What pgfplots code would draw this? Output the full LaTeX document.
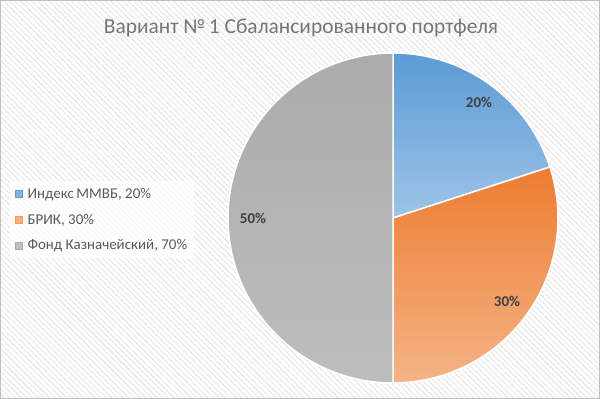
\documentclass[border=0pt]{standalone}
\usepackage{pgfplots}
\pgfplotsset{compat=1.18}
\usepackage{pgfplotstable}
\usepackage{fontspec}
\setmainfont{Carlito}
\usetikzlibrary{patterns.meta}
\definecolor{cblueT}{HTML}{5B9BD5}
\definecolor{cblueB}{HTML}{9FC4E7}
\definecolor{corT}{HTML}{ED7D31}
\definecolor{corB}{HTML}{F5B386}
\definecolor{cgrT}{HTML}{ABABAB}
\definecolor{cgrB}{HTML}{BDBDBD}
\definecolor{ctitle}{HTML}{767676}
\definecolor{ctext}{HTML}{595959}
\definecolor{clab}{HTML}{404040}
\pgfplotstableread{
name value
A 20
B 30
C 50
}\piedata
\begin{document}
\begin{tikzpicture}
\pgfplotstablegetelem{0}{value}\of\piedata \let\va\pgfplotsretval
\pgfplotstablegetelem{1}{value}\of\piedata \let\vb\pgfplotsretval
\pgfplotstablegetelem{2}{value}\of\piedata \let\vc\pgfplotsretval
\pgfmathsetmacro\aA{90}
\pgfmathsetmacro\aB{\aA-3.6*\va}
\pgfmathsetmacro\aC{\aB-3.6*\vb}
\pgfmathsetmacro\aD{\aC-3.6*\vc}
\fill[white] (0,0) rectangle (600bp,399bp);
\fill[pattern={Lines[angle=-45,distance=4bp,line width=0.6bp]},pattern color=black!14] (0,0) rectangle (600bp,399bp);
\draw[black!25,line width=1bp] (0.5bp,0.5bp) rectangle (599.5bp,398.5bp);
\begin{axis}[
  at={(0,0)}, anchor=origin,
  width=600bp, height=399bp, scale only axis,
  xmin=0, xmax=600, ymin=0, ymax=399,
  hide axis, clip=false,
  legend style={at={(axis cs:10,218)}, anchor=north west, draw=none,
    fill=white, fill opacity=0.75, text opacity=1,
    font=\fontsize{15}{17}\selectfont, text=ctext,
    row sep=10bp, inner xsep=5bp, inner ysep=5bp},
  legend cell align=left,
]
\addlegendimage{area legend, legend image code/.code={\fill[cblueT] (0bp,-3.5bp) rectangle (7bp,3.5bp);}}
\addlegendentry{\hspace{3bp}Индекс\kern2.5pt ММВБ,\ 20\%}
\addlegendimage{area legend, legend image code/.code={\fill[corT!80] (0bp,-3.5bp) rectangle (7bp,3.5bp);}}
\addlegendentry{\hspace{3bp}БРИК, 30\%}
\addlegendimage{area legend, legend image code/.code={\fill[cgrT] (0bp,-3.5bp) rectangle (7bp,3.5bp);}}
\addlegendentry{\hspace{3bp}Фонд Казначейский, 70\%}
\shade[top color=cblueT, bottom color=cblueB, draw=white, line width=1.5bp]
  (axis cs:393,181) -- ++(\aA:165bp) arc[start angle=\aA, end angle=\aB, radius=165bp] -- cycle;
\shade[top color=corT, bottom color=corB, draw=white, line width=1.5bp]
  (axis cs:393,181) -- ++(\aB:165bp) arc[start angle=\aB, end angle=\aC, radius=165bp] -- cycle;
\shade[top color=cgrT, bottom color=cgrB, draw=white, line width=1.5bp]
  (axis cs:393,181) -- ++(\aC:165bp) arc[start angle=\aC, end angle=\aD, radius=165bp] -- cycle;
\node[font=\bfseries\fontsize{15}{17}\selectfont, text=clab] at (axis cs:479,297) {\va\%};
\node[font=\bfseries\fontsize{15}{17}\selectfont, text=clab] at (axis cs:507,98) {\vb\%};
\node[font=\bfseries\fontsize{15}{17}\selectfont, text=clab] at (axis cs:253,181) {\vc\%};
\node[font=\fontsize{21.5}{24}\selectfont, text=ctitle, anchor=base] at (axis cs:301,365) {Вариант №\,1 Сбалансированного портфеля};
\end{axis}
\end{tikzpicture}
\end{document}
